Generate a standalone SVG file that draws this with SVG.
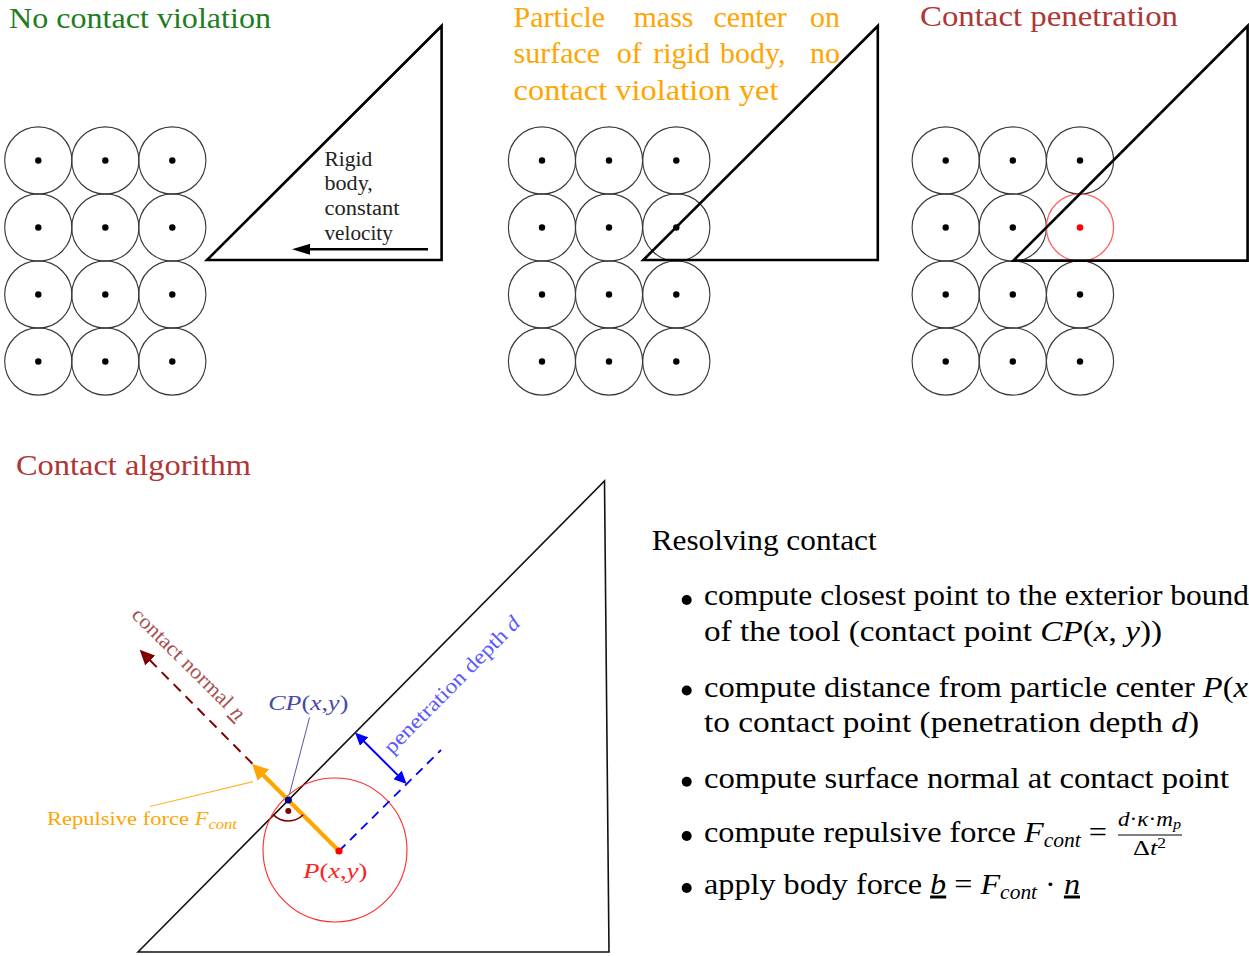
<svg xmlns="http://www.w3.org/2000/svg" width="1249" height="956" viewBox="0 0 1249 956">
<style>
  text { font-family: "Liberation Serif", "Times New Roman", serif; }
  .title { font-size: 30px; }
  .body { font-size: 30px; fill: #000; }
  .lbl { font-size: 21px; }
  .small { font-size: 20px; }
  .sub { font-size: 14px; }
  .it { font-style: italic; }
  .ring { fill: none; stroke: #3a3a3a; stroke-width: 1.15; }
  .dot { fill: #000; }
  .tri { fill: none; stroke: #000; stroke-width: 2.6; stroke-linejoin: miter; }
  .bul { fill: #000; }
</style>
<defs>
  <g id="cell"><circle r="33.6" class="ring"/><circle r="3.2" class="dot"/></g>
  <marker id="mBlk" viewBox="0 0 18 11" refX="1" refY="5.5" markerWidth="18" markerHeight="11" markerUnits="userSpaceOnUse" orient="auto"><path d="M0,0 L18,5.5 L0,11 z" fill="#000"/></marker>
  <marker id="mOrg" viewBox="0 0 16 16" refX="1" refY="8" markerWidth="16" markerHeight="16" markerUnits="userSpaceOnUse" orient="auto"><path d="M0,0 L16,8 L0,16 z" fill="#ffa500"/></marker>
  <marker id="mRed" viewBox="0 0 15 14" refX="1" refY="7" markerWidth="15" markerHeight="14" markerUnits="userSpaceOnUse" orient="auto"><path d="M0,0 L15,7 L0,14 z" fill="#800000"/></marker>
  <marker id="mBlu" viewBox="0 0 13 12" refX="1" refY="6" markerWidth="13" markerHeight="12" markerUnits="userSpaceOnUse" orient="auto-start-reverse"><path d="M0,0 L13,6 L0,12 z" fill="#0000ff"/></marker>
</defs>
<rect width="1249" height="956" fill="#fff"/>

<!-- Titles -->
<g id="titles" font-family="Liberation Serif, serif">
  <text class="title" x="9" y="28.3" fill="#1e7d1e" textLength="262" lengthAdjust="spacingAndGlyphs">No contact violation</text>
  <text class="title" y="26.7" fill="#ffa500"><tspan x="513.5">Particle </tspan><tspan x="633.5">mass </tspan><tspan x="713.5">center </tspan><tspan x="810">on</tspan></text>
  <text class="title" y="63.3" fill="#ffa500"><tspan x="513.5">surface </tspan><tspan x="616.7">of </tspan><tspan x="653.3">rigid </tspan><tspan x="720">body, </tspan><tspan x="810">no</tspan></text>
  <text class="title" x="513.5" y="100" fill="#ffa500" textLength="265" lengthAdjust="spacingAndGlyphs">contact violation yet</text>
  <text x="920" y="25.5" font-size="28.5" fill="#b03535" textLength="258" lengthAdjust="spacingAndGlyphs">Contact penetration</text>
  <text class="title" x="16" y="475" fill="#b03535" textLength="235" lengthAdjust="spacingAndGlyphs">Contact algorithm</text>
</g>

<!-- Panel 1 -->
<g id="panel1-particles">
  <use href="#cell" x="38.3" y="160.5"/><use href="#cell" x="105.3" y="160.5"/><use href="#cell" x="172.3" y="160.5"/>
  <use href="#cell" x="38.3" y="227.5"/><use href="#cell" x="105.3" y="227.5"/><use href="#cell" x="172.3" y="227.5"/>
  <use href="#cell" x="38.3" y="294.5"/><use href="#cell" x="105.3" y="294.5"/><use href="#cell" x="172.3" y="294.5"/>
  <use href="#cell" x="38.3" y="361.5"/><use href="#cell" x="105.3" y="361.5"/><use href="#cell" x="172.3" y="361.5"/>
</g>
<g id="panel1-body">
  <polygon class="tri" points="207,260 441.6,26 441.6,260"/>
  <g class="small" fill="#222" font-family="Liberation Serif, serif">
    <text x="324.5" y="165.7" textLength="47.7" lengthAdjust="spacingAndGlyphs">Rigid</text>
    <text x="324.5" y="190" textLength="48.3" lengthAdjust="spacingAndGlyphs">body,</text>
    <text x="324.5" y="215" textLength="75" lengthAdjust="spacingAndGlyphs">constant</text>
    <text x="324.5" y="240" textLength="68.3" lengthAdjust="spacingAndGlyphs">velocity</text>
  </g>
</g>

<!-- Panel 2 -->
<g id="panel2-particles">
  <use href="#cell" x="542" y="160.5"/><use href="#cell" x="609" y="160.5"/><use href="#cell" x="676.3" y="160.5"/>
  <use href="#cell" x="542" y="227.5"/><use href="#cell" x="609" y="227.5"/><use href="#cell" x="676.3" y="227.5"/>
  <use href="#cell" x="542" y="294.5"/><use href="#cell" x="609" y="294.5"/><use href="#cell" x="676.3" y="294.5"/>
  <use href="#cell" x="542" y="361.5"/><use href="#cell" x="609" y="361.5"/><use href="#cell" x="676.3" y="361.5"/>
</g>
<g id="panel2-body">
  <polygon class="tri" points="643.3,260 877.8,26 877.8,260"/>
</g>

<!-- Panel 3 -->
<g id="panel3-particles">
  <use href="#cell" x="945.7" y="160.5"/><use href="#cell" x="1012.8" y="160.5"/><use href="#cell" x="1080" y="160.5"/>
  <use href="#cell" x="945.7" y="227.5"/><use href="#cell" x="1012.8" y="227.5"/>
  <g id="penetrating-particle"><circle cx="1080" cy="227.5" r="33.6" fill="none" stroke="#ff6060" stroke-width="1.3"/><circle cx="1080" cy="227.5" r="3.3" fill="#ff0000"/></g>
  <use href="#cell" x="945.7" y="294.5"/><use href="#cell" x="1012.8" y="294.5"/><use href="#cell" x="1080" y="294.5"/>
  <use href="#cell" x="945.7" y="361.5"/><use href="#cell" x="1012.8" y="361.5"/><use href="#cell" x="1080" y="361.5"/>
</g>
<g id="panel3-body">
  <polygon class="tri" points="1013.3,260.6 1247.6,26 1247.6,260.6"/>
</g>

<!-- Contact algorithm -->
<g id="tool">
  <polygon points="138,952 604.5,481 609,952" fill="none" stroke="#111" stroke-width="1.6"/>
</g>
<g id="particle">
  <circle cx="335" cy="850" r="72" fill="none" stroke="#ff2a2a" stroke-width="1.1"/>
</g>

<g id="connectors">
  <line x1="428" y1="249.3" x2="309" y2="249.3" stroke="#000" stroke-width="2.6" marker-end="url(#mBlk)"/>
  <line x1="339" y1="851" x2="441" y2="750" stroke="#0000ff" stroke-width="1.8" stroke-dasharray="9 6.5"/>
  <line x1="288.3" y1="800" x2="149.5" y2="659.8" stroke="#800000" stroke-width="2" stroke-dasharray="10 7" marker-end="url(#mRed)"/>
  <line x1="339" y1="851" x2="262.7" y2="774.5" stroke="#ffa500" stroke-width="4.2" marker-end="url(#mOrg)"/>
  <line x1="363.5" y1="741" x2="398.2" y2="775.6" stroke="#0000ff" stroke-width="2" marker-start="url(#mBlu)" marker-end="url(#mBlu)"/>
  <line x1="309.5" y1="717.5" x2="289.5" y2="794" stroke="#5555aa" stroke-width="1"/>
  <line x1="150" y1="806.5" x2="253" y2="781.7" stroke="#ffb733" stroke-width="1.2"/>
  <path d="M273.5,814.9 A21,21 0 0 0 303.2,814.8" fill="none" stroke="#800000" stroke-width="1.6"/>
</g>

<g id="points">
  <circle cx="288.3" cy="811" r="3" fill="#800000"/>
  <circle cx="288.3" cy="800" r="3.6" fill="#000080"/>
  <circle cx="339" cy="851" r="3.6" fill="#ff0000"/>
</g>

<g id="labels" font-family="Liberation Serif, serif">
  <text class="lbl" x="268.3" y="710" fill="#4848a8" textLength="80" lengthAdjust="spacingAndGlyphs"><tspan class="it">CP</tspan>(<tspan class="it">x</tspan>,<tspan class="it">y</tspan>)</text>
  <text class="lbl" x="303.3" y="878" fill="#ff2020" textLength="64" lengthAdjust="spacingAndGlyphs"><tspan class="it">P</tspan>(<tspan class="it">x</tspan>,<tspan class="it">y</tspan>)</text>
  <text x="47" y="825" font-size="19" fill="#ffa500" textLength="190" lengthAdjust="spacingAndGlyphs">Repulsive force <tspan class="it">F</tspan><tspan class="it sub" dy="4">cont</tspan></text>
  <text class="lbl" fill="#5a5aff" transform="translate(392,755) rotate(-45.3)" textLength="184" lengthAdjust="spacingAndGlyphs">penetration depth <tspan class="it">d</tspan></text>
  <text class="lbl" fill="#a85050" transform="translate(130.5,616) rotate(44.7)" textLength="150" lengthAdjust="spacingAndGlyphs">contact normal <tspan class="it" text-decoration="underline">n</tspan></text>
</g>

<g id="resolving" font-family="Liberation Serif, serif">
  <text class="body" x="651.7" y="550" textLength="225" lengthAdjust="spacingAndGlyphs">Resolving contact</text>
  <g id="bullets">
    <circle class="bul" cx="686.7" cy="600" r="5"/>
    <circle class="bul" cx="686.7" cy="690.5" r="5"/>
    <circle class="bul" cx="686.7" cy="781.7" r="5"/>
    <circle class="bul" cx="686.7" cy="836" r="5"/>
    <circle class="bul" cx="686.7" cy="888" r="5"/>
  </g>
  <text class="body" x="704" y="605" textLength="545" lengthAdjust="spacingAndGlyphs">compute closest point to the exterior bound</text>
  <text class="body" x="704" y="640.5" textLength="458" lengthAdjust="spacingAndGlyphs">of the tool (contact point <tspan class="it">CP</tspan>(<tspan class="it">x</tspan>, <tspan class="it">y</tspan>))</text>
  <text class="body" x="704" y="696.5" textLength="544" lengthAdjust="spacingAndGlyphs">compute distance from particle center <tspan class="it">P</tspan>(<tspan class="it">x</tspan></text>
  <text class="body" x="704" y="732" textLength="495" lengthAdjust="spacingAndGlyphs">to contact point (penetration depth <tspan class="it">d</tspan>)</text>
  <text class="body" x="704" y="788" textLength="525" lengthAdjust="spacingAndGlyphs">compute surface normal at contact point</text>
  <text class="body" x="704" y="842" textLength="403" lengthAdjust="spacingAndGlyphs">compute repulsive force <tspan class="it">F</tspan><tspan class="it" font-size="20" dy="5">cont</tspan><tspan dy="-5"> =</tspan></text>
  <text x="1149.5" y="826" font-size="20" text-anchor="middle" textLength="63" lengthAdjust="spacingAndGlyphs"><tspan class="it">d</tspan>·<tspan class="it">κ</tspan>·<tspan class="it">m</tspan><tspan class="it sub" dy="3">p</tspan></text>
  <line x1="1118" y1="835" x2="1182" y2="835" stroke="#000" stroke-width="1.2"/>
  <text x="1149.5" y="855" font-size="21" text-anchor="middle" textLength="33" lengthAdjust="spacingAndGlyphs">Δ<tspan class="it">t</tspan><tspan class="sub" dy="-7">2</tspan></text>
  <text class="body" x="704" y="893.5" textLength="376" lengthAdjust="spacingAndGlyphs">apply body force <tspan class="it" text-decoration="underline">b</tspan> = <tspan class="it">F</tspan><tspan class="it" font-size="20" dy="5">cont</tspan><tspan dy="-5"> · </tspan><tspan class="it" text-decoration="underline">n</tspan></text>
</g>
</svg>
